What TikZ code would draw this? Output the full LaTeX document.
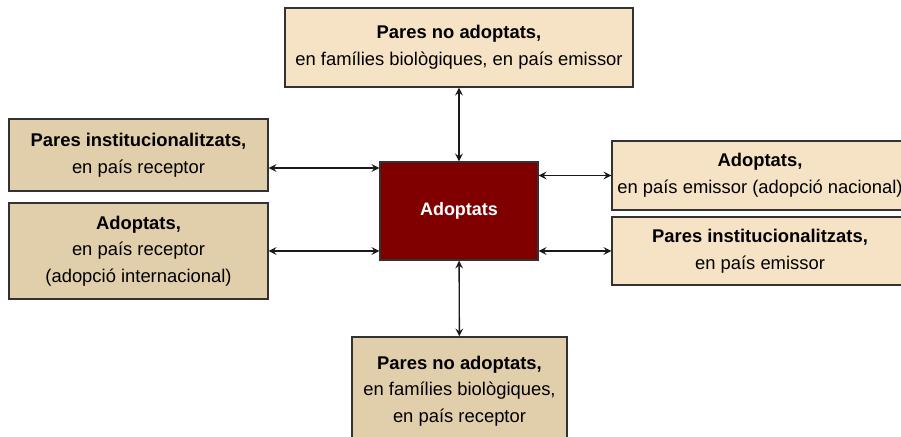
\documentclass[tikz,border=0pt]{standalone}
\usepackage{fontspec}
\setmainfont{Liberation Sans}
\usepackage{tikz}
\usetikzlibrary{arrows}
\definecolor{emissor}{RGB}{246,226,196}
\definecolor{receptor}{RGB}{225,207,172}
\definecolor{granat}{RGB}{128,0,0}
\definecolor{vora}{RGB}{50,50,50}
\tikzstyle{caixa} = [rectangle, draw=vora, line width=0.7pt, align=center, inner sep=0pt, font=\fontsize{9.2}{13.3}\selectfont]
\tikzstyle{clara} = [caixa, fill=emissor]
\tikzstyle{fosca} = [caixa, fill=receptor]
\tikzstyle{centre} = [caixa, fill=granat, text=white, font=\fontsize{9}{13}\selectfont\bfseries]
\tikzstyle{arrow} = [line width=0.7pt, <->, >=stealth, draw=black!90]

\begin{document}
\begin{tikzpicture}[x=0.5pt, y=-0.5pt]
\useasboundingbox (0,0) rectangle (901,437);
\node [centre, minimum width=79pt, minimum height=49pt] at (459,211) (adoptats) {Adoptats};
\node [clara, minimum width=174pt, minimum height=39.5pt] at (459,47.5) (pares_emissor)
	{\textbf{Pares no adoptats,}\\en famílies biològiques, en país emissor};
\node [fosca, minimum width=129.5pt, minimum height=36pt] at (138.5,155) (inst_receptor)
	{\textbf{Pares institucionalitzats,}\\en país receptor};
\node [fosca, minimum width=129.5pt, minimum height=48pt] at (138.5,251) (adopt_receptor)
	{\textbf{Adoptats,}\\en país receptor\\(adopció internacional)};
\node [clara, minimum width=148pt, minimum height=34.5pt] at (760,175.5) (adopt_emissor)
	{\textbf{Adoptats,}\\en país emissor (adopció nacional)};
\node [clara, minimum width=148pt, minimum height=34pt] at (760,251) (inst_emissor)
	{\textbf{Pares institucionalitzats,}\\en país emissor};
\node [fosca, minimum width=107.5pt, minimum height=54pt] at (459.5,391) (pares_receptor)
	{\textbf{Pares no adoptats,}\\en famílies biològiques,\\en país receptor};
\coordinate (inst_receptor_arrow) at ([yshift=-6.5pt]inst_receptor.east);
\draw [arrow] (pares_emissor) -- (adoptats);
\draw [arrow] (adoptats) -- (pares_receptor);
\draw [arrow] (inst_receptor_arrow) -- (inst_receptor_arrow -| adoptats.west);
\draw [arrow] (adopt_receptor) -- (adopt_receptor -| adoptats.west);
\draw [arrow] (adopt_emissor -| adoptats.east) -- (adopt_emissor);
\draw [arrow] (inst_emissor -| adoptats.east) -- (inst_emissor);
\end{tikzpicture}
\end{document}
